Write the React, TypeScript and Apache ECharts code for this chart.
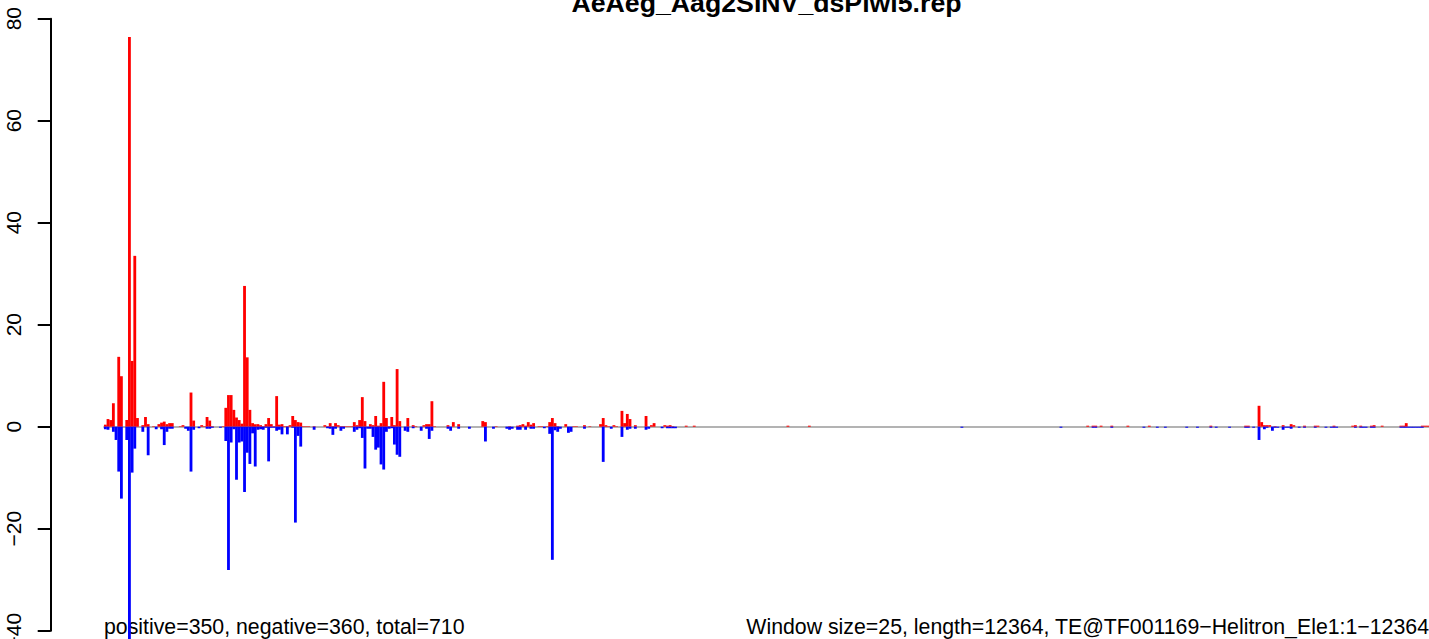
import React, { useEffect, useRef } from 'react';
import * as echarts from 'echarts';

const TITLE = 'AeAeg_Aag2SINV_dsPiwi5.rep';
const LEFT_NOTE = 'positive=350, negative=360, total=710';
const RIGHT_NOTE = 'Window size=25, length=12364, TE@TF001169\u2212Helitron_Ele1:1\u221212364';
const WINDOW_SIZE = 25;
const Y_MIN = -40;
const Y_MAX = 80;
const Y_STEP = 20;

// per-window positive-strand signal (red)
const positive = [
  0.4, 1.5, 1.3, 4.6, 0, 13.7, 9.9, 0, 1.3, 76.4, 12.9, 33.5, 1.7, 0, 0.3, 1.9, 0.5, 0, 0.1, 0,
  0.5, 0.8, 1.0, 0.5, 0.7, 0.7, 0, 0, 0.1, 0.3, 0, 0, 6.7, 1.2, 0, 0, 0.3, 0.1, 1.9, 1.2,
  0.1, 0, 0, 0, 0.1, 3.7, 6.2, 6.2, 3.3, 1.8, 1.3, 0.6, 27.6, 13.6, 3.3, 0.7, 0.5, 0.5, 0.3, 0.1,
  0.5, 1.7, 0.5, 0.1, 6.0, 0.4, 0.5, 0.1, 0.1, 0.3, 2.1, 1.3, 0.9, 0.8, 0.1, 0.1, 0.1, 0, 0.1, 0,
  0, 0, 0.3, 0.1, 0.7, 0.1, 0.7, 0.3, 0.1, 0.1, 0.1, 0.1, 0.1, 0.9, 0.3, 1.3, 5.8, 1.1, 0, 0.5,
  0.3, 2.1, 0.2, 0.7, 8.8, 1.7, 0.1, 1.9, 0.3, 11.3, 1.1, 0, 0, 1.7, 0, 0.3, 0.1, 0, 0, 0.3,
  0.5, 0.5, 5.0, 0.1, 0, 0, 0, 0, 0.3, 0, 0.9, 0, 0.5, 0, 0, 0, 0, 0, 0, 0,
  0, 1.1, 0.9, 0, 0, 0, 0.1, 0, 0, 0, 0, 0.1, 0, 0, 0.2, 0.3, 0.5, 0.2, 0.9, 0.4,
  0.7, 0, 0.1, 0.1, 0, 0.1, 0.9, 1.7, 0.7, 0.1, 0, 0, 0.5, 0, 0, 0.1, 0.1, 0, 0, 0.3,
  0, 0.1, 0, 0, 0, 0.5, 1.7, 0.3, 0.1, 0, 0.3, 0.1, 0, 3.1, 0.7, 2.5, 1.5, 0, 0.3, 0,
  0, 0, 2.1, 0, 0.3, 0.7, 0, 0, 0, 0.3, 0.2, 0.3, 0.1, 0, 0, 0, 0, 0.2, 0, 0,
  0.2, 0, 0, 0, 0, 0, 0, 0, 0, 0, 0, 0, 0, 0, 0, 0, 0, 0, 0, 0,
  0, 0, 0, 0, 0, 0, 0, 0, 0, 0, 0, 0, 0, 0, 0, 0.2, 0, 0, 0, 0,
  0, 0, 0, 0.2, 0, 0, 0, 0, 0, 0, 0, 0, 0, 0, 0, 0, 0, 0, 0, 0,
  0, 0, 0, 0, 0, 0, 0, 0, 0, 0, 0, 0, 0, 0, 0, 0, 0, 0, 0, 0,
  0, 0, 0, 0, 0, 0, 0, 0, 0, 0, 0, 0, 0, 0, 0, 0, 0, 0, 0, 0,
  0, 0, 0, 0, 0, 0, 0, 0, 0, 0, 0, 0, 0, 0, 0, 0, 0, 0, 0, 0,
  0, 0, 0, 0, 0, 0, 0, 0, 0, 0, 0, 0, 0, 0, 0, 0, 0, 0, 0, 0,
  0, 0, 0, 0, 0, 0, 0, 0.2, 0, 0.2, 0.2, 0, 0.2, 0, 0, 0, 0.2, 0, 0, 0,
  0, 0, 0.2, 0, 0, 0, 0, 0, 0, 0, 0.2, 0, 0, 0, 0, 0, 0, 0, 0, 0,
  0, 0, 0, 0, 0, 0, 0, 0, 0, 0, 0, 0, 0, 0.2, 0, 0, 0, 0, 0, 0,
  0, 0, 0, 0, 0, 0, 0.2, 0.2, 0, 0, 0, 4.1, 0.9, 0.3, 0.3, 0.3, 0, 0.1, 0, 0,
  0.3, 0, 0, 0.5, 0.3, 0, 0, 0, 0.2, 0, 0, 0, 0.2, 0.2, 0, 0, 0, 0, 0, 0.2,
  0, 0, 0, 0, 0, 0, 0.2, 0.3, 0, 0.2, 0, 0, 0, 0.2, 0.3, 0, 0, 0.2, 0, 0,
  0, 0, 0, 0, 0.2, 0.2, 0.7, 0, 0, 0, 0, 0, 0.2, 0.2, 0.2,
];

// per-window negative-strand signal (blue)
const negative = [
  -0.5, -0.6, 0, -1.0, -2.6, -8.8, -14.1, 0, -2.6, -42, -9.0, -4.3, 0, 0, -1.0, 0, -5.6, 0, 0, -0.5,
  0, -0.5, -3.6, -1.0, -0.4, -0.4, 0, 0, 0, 0, -0.4, -0.8, -8.8, -0.6, 0, -0.3, 0, 0, -0.4, -0.4,
  -0.2, 0, 0, -0.2, 0, -2.8, -28.1, -3.1, -0.5, -10.4, -3.1, -2.9, -12.8, -5.1, -7.3, -1.3, -7.8, -0.6, -0.5, -0.6,
  -0.2, -6.8, -0.2, -0.2, -0.8, -0.6, -1.5, 0, -1.5, 0, -0.2, -18.8, -1.8, -3.9, 0, 0, 0, 0, -0.6, 0,
  0, 0, 0, -0.3, -0.4, -1.6, -0.4, 0, -0.8, -0.4, 0, 0, 0, -1.0, -0.6, -0.3, -2.2, -8.2, -0.4, -0.4,
  -2.0, -4.5, -4.1, -7.4, -8.4, -1.0, -0.4, -0.3, -3.5, -5.5, -5.9, 0, -0.8, -1.0, 0, -0.3, 0, 0, -0.8, 0,
  -0.4, -2.4, -0.8, 0, 0, 0, 0, 0, -0.4, -0.8, 0, 0, -0.4, 0, 0, 0, -0.4, 0, 0, 0,
  0, 0, -2.9, 0, 0, -0.4, 0, 0, 0, 0, -0.4, -0.6, -0.4, 0, -0.6, -0.6, 0, -0.6, 0, -0.4,
  -0.4, 0, 0, 0, -0.3, 0, -1.4, -26.1, -0.7, -1.0, -0.4, 0, 0, -1.2, -1.0, 0, 0, 0, 0, -0.4,
  0, 0, 0, 0, 0, 0, -6.9, 0, 0, -0.4, 0, 0, 0, -2.0, 0, -0.6, -0.4, 0, -0.4, 0,
  0, 0, -0.6, -0.4, 0, 0, 0, 0, -0.3, 0, -0.3, -0.3, -0.3, -0.3, 0, 0, 0, 0, 0, 0,
  0, 0, 0, 0, 0, 0, 0, 0, 0, 0, 0, 0, 0, 0, 0, 0, 0, 0, 0, 0,
  0, 0, 0, 0, 0, 0, 0, 0, 0, 0, 0, 0, 0, 0, 0, 0, 0, 0, 0, 0,
  0, 0, 0, 0, 0, 0, 0, 0, 0, 0, 0, 0, 0, 0, 0, 0, 0, 0, 0, 0,
  0, 0, 0, 0, 0, 0, 0, 0, 0, 0, 0, 0, 0, 0, 0, 0, 0, 0, 0, 0,
  0, 0, 0, 0, 0, 0, 0, 0, 0, 0, 0, 0, 0, 0, 0, 0, 0, 0, 0, 0,
  -0.2, 0, 0, 0, 0, 0, 0, 0, 0, 0, 0, 0, 0, 0, 0, 0, 0, 0, 0, 0,
  0, 0, 0, 0, 0, 0, 0, 0, 0, 0, 0, 0, 0, 0, 0, 0, 0, -0.2, 0, 0,
  0, 0, 0, 0, 0, 0, 0, 0, 0, -0.2, -0.2, 0, 0, 0, 0, 0, -0.2, 0, 0, 0,
  0, 0, 0, 0, 0, 0, 0, 0, -0.2, 0, 0, 0, 0, -0.2, 0, 0, -0.2, 0, 0, 0,
  0, 0, 0, 0, -0.2, 0, 0, 0, -0.2, 0, 0, 0, 0, -0.2, 0, -0.2, 0, 0, 0, 0,
  -0.2, 0, 0, 0, 0, 0, -0.2, -0.2, 0, -0.2, 0, -2.6, 0, -0.5, -0.2, 0, -0.8, -0.2, -0.2, 0,
  -0.6, -0.2, -0.2, -0.4, 0, 0, -0.2, 0, -0.2, 0, 0, 0, -0.2, 0, 0, 0, -0.2, 0, -0.2, -0.2,
  -0.2, 0, 0, 0, 0, 0, 0, -0.2, 0, -0.2, -0.2, -0.2, 0, -0.2, -0.2, 0, 0, 0, 0, 0,
  0, 0, 0, 0, -0.2, -0.2, -0.2, -0.2, -0.2, -0.2, -0.2, -0.2, -0.2, 0, 0,
];

const FONT = '"Liberation Sans", Arial, Helvetica, sans-serif';
const PLOT_LEFT = 104;
const PLOT_WIDTH = 1325;

export default function App() {
  const ref = useRef<HTMLDivElement>(null);
  useEffect(() => {
    document.body.style.margin = '0';
    const el = ref.current as HTMLDivElement;
    const chart = echarts.init(el, null, { renderer: 'svg' });
    const categories = positive.map((_, i) => String(i * WINDOW_SIZE + 1));
    const bandWidth = PLOT_WIDTH / categories.length;
    chart.setOption({
      animation: false,
      backgroundColor: '#ffffff',
      grid: { left: PLOT_LEFT, width: PLOT_WIDTH, top: 18.7, bottom: 8.3, containLabel: false, outerBoundsMode: 'none' },
      xAxis: {
        type: 'category',
        data: categories,
        boundaryGap: true,
        axisLine: { show: true, onZero: true, lineStyle: { color: '#9a9a9a', width: 1.6 } },
        axisTick: { show: false },
        axisLabel: { show: false },
        splitLine: { show: false },
      },
      yAxis: {
        type: 'value',
        min: Y_MIN,
        max: Y_MAX,
        interval: Y_STEP,
        offset: 53.3,
        axisLine: { show: true, lineStyle: { color: '#000', width: 2 } },
        axisTick: { show: true, inside: false, length: 13, lineStyle: { color: '#000', width: 2 } },
        axisLabel: {
          rotate: 90,
          margin: 27,
          fontSize: 21,
          fontFamily: FONT,
          color: '#000',
          formatter: (v: number) => String(v).replace('-', '\u2212'),
        },
        splitLine: { show: false },
      },
      series: [
        {
          type: 'bar',
          name: 'positive',
          data: positive,
          itemStyle: { color: '#ff0000', borderWidth: 0 },
          barWidth: bandWidth + 0.15,
          barGap: '-100%',
          clip: false,
          large: false,
          z: 3,
        },
        {
          type: 'bar',
          name: 'negative',
          data: negative,
          itemStyle: { color: '#0000ff', borderWidth: 0 },
          barWidth: bandWidth + 0.15,
          barGap: '-100%',
          clip: false,
          large: false,
          z: 3,
        },
      ],
      graphic: [
        {
          type: 'text',
          x: 766.5,
          y: 3,
          style: { text: TITLE, font: `bold 26.7px ${FONT}`, fill: '#000', align: 'center', verticalAlign: 'middle' },
        },
        {
          type: 'text',
          x: 104,
          y: 627.2,
          style: { text: LEFT_NOTE, font: `21.3px ${FONT}`, fill: '#000', align: 'left', verticalAlign: 'middle' },
        },
        {
          type: 'text',
          x: 1429,
          y: 627.2,
          style: { text: RIGHT_NOTE, font: `21.3px ${FONT}`, fill: '#000', align: 'right', verticalAlign: 'middle' },
        },
      ],
    });
    return () => chart.dispose();
  }, []);
  return <div ref={ref} style={{ width: 1429, height: 639 }} />;
}
